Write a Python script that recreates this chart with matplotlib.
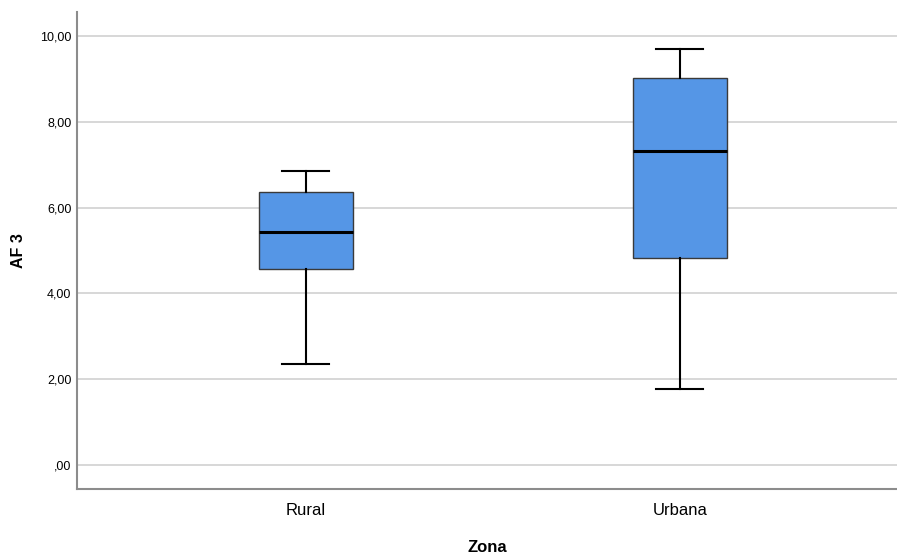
import matplotlib.pyplot as plt

zonas = ['Rural', 'Urbana']
whislo = [2.35, 1.77]
q1 = [4.57, 4.83]
med = [5.43, 7.32]
q3 = [6.36, 9.02]
whishi = [6.85, 9.70]

stats = []
for i in range(len(zonas)):
    stats.append({'label': zonas[i], 'whislo': whislo[i], 'q1': q1[i],
                  'med': med[i], 'q3': q3[i], 'whishi': whishi[i], 'fliers': []})

plt.rcParams['font.family'] = ['Liberation Sans', 'DejaVu Sans']

fig = plt.figure(figsize=(8.97, 5.54), dpi=100)
ax = fig.add_axes([0.0858, 0.1173, 0.9142, 0.861])

ax.bxp(stats, positions=[1, 2], widths=0.251, patch_artist=True,
       boxprops=dict(facecolor='#5596e6', edgecolor='#3a3a3a', linewidth=1.0),
       medianprops=dict(color='black', linewidth=2.2),
       whiskerprops=dict(color='black', linewidth=1.5),
       capprops=dict(color='black', linewidth=1.5),
       capwidths=0.125, zorder=3)

ax.set_xlim(0.388, 2.581)
ax.set_ylim(-0.56, 10.56)
ax.set_yticks([0, 2, 4, 6, 8, 10])
ax.set_yticklabels([',00', '2,00', '4,00', '6,00', '8,00', '10,00'], fontsize=9)
ax.set_xticklabels(zonas, fontsize=12)
ax.tick_params(axis='x', length=0, pad=10)
ax.tick_params(axis='y', length=0, pad=4)

ax.yaxis.grid(True, color='#d4d4d4', linewidth=1.3)
ax.set_axisbelow(True)
for s in ['top', 'right']:
    ax.spines[s].set_visible(False)
for s in ['left', 'bottom']:
    ax.spines[s].set_color('#8c8c8c')
    ax.spines[s].set_linewidth(1.5)

ax.set_xlabel('Zona', fontsize=12, fontweight='bold', labelpad=16)
ax.set_ylabel('AF 3', fontsize=11.5, fontweight='bold', labelpad=10)

fig.savefig('out.png', dpi=100)
